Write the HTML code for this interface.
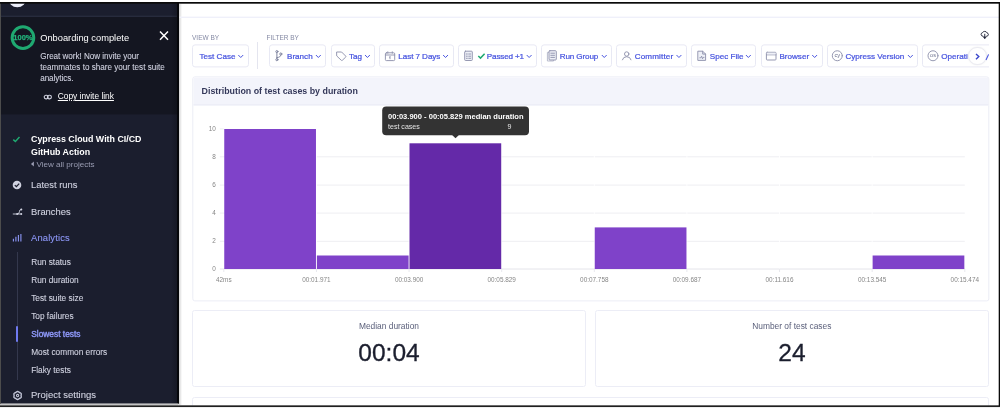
<!DOCTYPE html>
<html>
<head>
<meta charset="utf-8">
<title>Cypress Cloud - Slowest tests</title>
<style>
*{box-sizing:border-box;margin:0;padding:0}
html,body{width:1000px;height:408px;overflow:hidden;background:#fff}
body{position:relative;font-family:"Liberation Sans",sans-serif;color:#2e3247}
.a{position:absolute}
.t{position:absolute;white-space:nowrap;line-height:12px}
.c{transform:translateX(-50%)}
/* frame */
/* sidebar */
#sb{left:0;top:3px;width:177.500px;height:401px;background:#1b1e2e;overflow:hidden}
#sbedge{left:170.500px;top:3px;width:8px;height:401px;background:linear-gradient(90deg,rgba(5,6,10,0) 0,rgba(5,6,10,.25) 70%,#05060a 80%,#05060a 100%)}
#sbshadow{left:178.500px;top:3.700px;width:3px;height:401px;background:linear-gradient(90deg,rgba(0,0,0,.18),rgba(0,0,0,0))}
.sw{color:#fff}
.sg{color:#d0d2e0;-webkit-text-stroke:.08px #d0d2e0}
.nav{font-size:9.4px;color:#d0d2e0;left:31px;-webkit-text-stroke:.1px #d0d2e0}
.sub{font-size:8.3px;color:#d0d2e0;left:31.2px;-webkit-text-stroke:.1px #d0d2e0}
.ind{color:#8d97f7 !important;-webkit-text-stroke-color:#8d97f7 !important}
/* main */
.lbl{font-size:6.5px;color:#858aa4}
.btn{position:absolute;top:44px;height:22.8px;transform:translateY(.4px);border:1px solid #e8e9f4;border-radius:3px;background:#fff}
.bt{position:absolute;white-space:nowrap;font-size:8.1px;line-height:12px;top:51.1px;color:#4552df;-webkit-text-stroke:0.22px #4552df}
.card{position:absolute;border:1px solid #ecedf6;border-radius:2.500px;background:#fff}
.grid{position:absolute;left:220px;width:745px;height:1px;background:#ededf0}
.yl{position:absolute;width:20px;left:195.8px;text-align:right;font-size:6.4px;line-height:8px;color:#868686}
.xl{position:absolute;top:275.8px;font-size:6.4px;line-height:8px;color:#868686;white-space:nowrap;transform:translateX(-50%)}
.bar{position:absolute;background:#7f42c9}
</style>
</head>
<body>
<div id="root" style="position:absolute;left:0;top:0;width:1000px;height:408px;will-change:transform;transform:translateZ(0)">
<!-- sidebar -->
<div class="a" id="sb">
  <svg class="a" style="left:0;top:-3px" width="178" height="408" viewBox="0 0 178 408">
   <circle cx="17.300" cy="-1.700" r="9" fill="#eceefa"/>
   <rect x="0" y="15.600" width="178" height="1.500" fill="#272b3d"/>
   <rect x="0" y="17.100" width="178" height="97.300" fill="#141621"/>
  </svg>
</div>
<div class="a" id="sbedge"></div>
<div class="a" id="sbshadow"></div>

<!-- onboarding -->
<svg class="a" style="left:9px;top:23px" width="28" height="28" viewBox="0 0 28 28"><circle cx="13.950" cy="14.650" r="10.800" fill="none" stroke="#1fa971" stroke-width="3"/></svg>
<div class="t c" style="left:22.9px;top:32.3px;font-size:7.5px;font-weight:bold;color:#22b27a;-webkit-text-stroke:.25px #22b27a">100%</div>
<div class="t sw" style="left:40.2px;top:32px;font-size:9.3px">Onboarding complete</div>
<svg class="a" style="left:158.100px;top:30.100px" width="12" height="12" viewBox="0 0 12 12"><path d="M2 1.6 L10 9.8 M10 1.6 L2 9.8" stroke="#fff" stroke-width="1.5" fill="none"/></svg>
<div class="t sg" style="left:40.2px;top:50.7px;font-size:8.15px;letter-spacing:-.04px">Great work! Now invite your</div>
<div class="t sg" style="left:40.2px;top:61.6px;font-size:8.15px">teammates to share your test suite</div>
<div class="t sg" style="left:40.2px;top:72.9px;font-size:8.15px;letter-spacing:-.07px">analytics.</div>
<svg class="a" style="left:42.600px;top:93px" width="10" height="8" viewBox="0 0 10 8"><g fill="none" stroke="#d0d2e0" stroke-width="1.100"><rect x="1.2" y="2.300" width="4" height="3.600" rx="1.800"/><rect x="4.400" y="2.300" width="4" height="3.600" rx="1.800"/></g></svg>
<div class="t sw" style="left:57.8px;top:90.2px;font-size:8.35px;text-decoration:underline">Copy invite link</div>

<!-- project -->
<svg class="a" style="left:11px;top:134px" width="12" height="10" viewBox="0 0 12 10"><path d="M2.300 5.600 L4.400 7.500 L8.500 3.100" stroke="#1fa971" stroke-width="1.500" fill="none"/></svg>
<div class="t sw" style="left:31px;top:133.1px;font-size:8.85px;font-weight:bold">Cypress Cloud With CI/CD</div>
<div class="t sw" style="left:31px;top:146.1px;font-size:8.85px;font-weight:bold">GitHub Action</div>
<svg class="a" style="left:30px;top:160px" width="6" height="8" viewBox="0 0 6 8"><path d="M3.900 1.600 V6.600 L0.900 4.100 Z" fill="#9a9db3"/></svg>
<div class="t" style="left:36.4px;top:159px;font-size:8.08px;color:#9a9db3">View all projects</div>

<!-- nav -->
<svg class="a" style="left:12px;top:180px" width="10" height="10" viewBox="0 0 10 10"><circle cx="5" cy="5" r="4.3" fill="#d0d2e0"/><path d="M2.8 5.1 L4.4 6.6 L7.2 3.6" stroke="#1b1e2e" stroke-width="1.3" fill="none"/></svg>
<div class="t nav" style="top:179px">Latest runs</div>
<svg class="a" style="left:12px;top:206px" width="11" height="10" viewBox="0 0 11 10"><path d="M0.800 8 H9.400 M5.300 8 Q7.300 7.800 7.400 5.700 Q7.500 3.500 9.300 3.400" stroke="#d0d2e0" stroke-width="0.900" fill="none"/><circle cx="5.200" cy="8" r="1.050" fill="#d0d2e0"/><circle cx="9.300" cy="3.400" r="1" fill="#d0d2e0"/><circle cx="9.300" cy="8" r="0.950" fill="#d0d2e0"/></svg>
<div class="t nav" style="top:205.7px">Branches</div>
<svg class="a" style="left:12px;top:233px" width="10" height="10" viewBox="0 0 10 10"><path d="M1.400 8.500 V5.800 M3.900 8.500 V3.800 M6.400 8.500 V2 M8.900 8.500 V1" stroke="#8d97f7" stroke-width="1.100" fill="none"/></svg>
<div class="t nav ind" style="top:231.7px;letter-spacing:.15px">Analytics</div>

<div class="a" style="left:16.5px;top:252px;width:1px;height:128px;background:#34384d"></div>
<div class="a" style="left:16px;top:326px;width:2px;height:16px;background:#6f7af0;border-radius:1px"></div>
<div class="t sub" style="top:256.4px">Run status</div>
<div class="t sub" style="top:274px">Run duration</div>
<div class="t sub" style="top:291.9px">Test suite size</div>
<div class="t sub" style="top:309.9px">Top failures</div>
<div class="t sub ind" style="top:327.8px;font-size:8.4px;-webkit-text-stroke-width:.4px">Slowest tests</div>
<div class="t sub" style="top:345.6px">Most common errors</div>
<div class="t sub" style="top:363.5px">Flaky tests</div>

<svg class="a" style="left:11.800px;top:390px" width="12" height="12" viewBox="0 0 12 12"><g fill="none" stroke="#c3c6d8"><path d="M5.60 1.37 L6.58 1.83 L7.33 2.49 L8.29 2.81 L9.18 3.43 L9.27 4.52 L9.07 5.50 L9.27 6.48 L9.18 7.56 L8.29 8.19 L7.33 8.51 L6.58 9.17 L5.60 9.63 L4.62 9.17 L3.86 8.51 L2.91 8.19 L2.02 7.57 L1.93 6.48 L2.13 5.50 L1.93 4.52 L2.02 3.43 L2.91 2.81 L3.86 2.49 L4.62 1.83 Z" stroke-width="1.350" stroke-linejoin="round"/><circle cx="5.6" cy="5.5" r="1.150" stroke-width="1.050"/></g></svg>
<div class="t nav" style="top:389.2px;font-size:9.5px">Project settings</div>

<!-- filter bar -->
<svg class="a" style="left:0;top:0" width="1000" height="30" viewBox="0 0 1000 30"><rect x="179.500" y="16.600" width="819.500" height="1.400" fill="#eff0fa"/></svg>
<div class="t lbl" style="left:192px;top:32.2px">VIEW BY</div>
<div class="t lbl" style="left:266.5px;top:32.2px">FILTER BY</div>
<div class="a" style="left:256.8px;top:42.2px;width:1px;height:26.6px;background:#e4e5ef"></div>

<div class="btn" style="left:192px;width:56.5px"></div>
<div class="btn" style="left:268.5px;width:57.8px"></div>
<div class="btn" style="left:330.5px;width:44.6px"></div>
<div class="btn" style="left:379.4px;width:74.4px"></div>
<div class="btn" style="left:458px;width:79px"></div>
<div class="btn" style="left:541.4px;width:70.6px"></div>
<div class="btn" style="left:616.4px;width:70.6px"></div>
<div class="btn" style="left:691.4px;width:64.8px"></div>
<div class="btn" style="left:760.5px;width:62px"></div>
<div class="btn" style="left:826.5px;width:91.7px"></div>
<div class="btn" style="left:922.2px;width:70px"></div>

<div class="bt" style="left:199.5px">Test Case</div>
<div class="bt" style="left:287px">Branch</div>
<div class="bt" style="left:349px">Tag</div>
<div class="bt" style="left:398.3px;letter-spacing:-.07px">Last 7 Days</div>
<div class="bt" style="left:486.8px;letter-spacing:-.15px">Passed +1</div>
<div class="bt" style="left:559.7px;letter-spacing:-.12px">Run Group</div>
<div class="bt" style="left:634.75px;letter-spacing:.13px">Committer</div>
<div class="bt" style="left:709.8px">Spec File</div>
<div class="bt" style="left:779.4px">Browser</div>
<div class="bt" style="left:845.4px">Cypress Version</div>
<div class="bt" style="left:941.2px">Operati</div>

<!-- chevrons -->
<svg class="a" style="left:0;top:0" width="1000" height="408" viewBox="0 0 1000 408">
 <g fill="none" stroke="#4a56e0" stroke-width="1" stroke-linecap="round" stroke-linejoin="round">
  <path d="M238.6 55.3 l2.15 2.2 l2.15 -2.2"/>
  <path d="M316.2 55.3 l2.15 2.2 l2.15 -2.2"/>
  <path d="M365.3 55.3 l2.15 2.2 l2.15 -2.2"/>
  <path d="M443.4 55.3 l2.15 2.2 l2.15 -2.2"/>
  <path d="M527 55.3 l2.15 2.2 l2.15 -2.2"/>
  <path d="M602.1 55.3 l2.15 2.2 l2.15 -2.2"/>
  <path d="M676.8 55.3 l2.15 2.2 l2.15 -2.2"/>
  <path d="M746.2 55.3 l2.15 2.2 l2.15 -2.2"/>
  <path d="M812.5 55.3 l2.15 2.2 l2.15 -2.2"/>
  <path d="M908.2 55.3 l2.15 2.2 l2.15 -2.2"/>
 </g>
 <!-- icons -->
 <g fill="none" stroke="#9094ae" stroke-width="0.95" stroke-linecap="round" stroke-linejoin="round">
  <!-- branch -->
  <g stroke="#7f849f" stroke-width="1"><path d="M276.9 52.600 V58.8 M276.9 57.6 Q280.8 57.4 280.8 55"/>
  <circle cx="276.9" cy="51.600" r="1.050" fill="#fff"/><circle cx="276.9" cy="59.7" r="1.050" fill="#fff"/><circle cx="280.8" cy="54" r="1.050" fill="#fff"/></g>
  <!-- tag -->
  <path d="M337 52 H341.6 L345.7 56.1 Q346.100 56.6 345.7 57.1 L342.3 60.300 Q341.8 60.7 341.3 60.300 L337 56.2 Z"/>
  <!-- calendar -->
  <rect x="385.4" y="52.800" width="9.3" height="7.800" rx="1"/><path d="M385.4 55 H394.700 M387.8 51.800 V53.2 M392.3 51.800 V53.2 M390 56.8 V58.8 M389.4 57.2 L390 56.8"/>
  <!-- status doc -->
  <rect x="464.700" y="51.200" width="7.600" height="9.300" rx="0.8" fill="#eef0f7"/><path d="M466.4 54 H467.3 M468.700 54 H470.6 M466.4 56.2 H467.3 M468.700 56.2 H470.6 M466.4 58.3 H467.3 M468.700 58.3 H470.6"/>
  <!-- run group -->
  <path d="M548.6 52.400 H547.4 V61 H553.6 V60" stroke="#b5b8cb"/>
  <rect x="549" y="50.7" width="7.300" height="9.300" rx="0.9" fill="#eef0f7"/><path d="M550.8 53.2 H554.5 M550.8 55.300 H554.5 M550.8 57.400 H554.5"/>
  <!-- committer -->
  <circle cx="626.7" cy="54" r="2.2"/><path d="M622.4 59.8 Q623.2 56.700 626.7 56.700 Q630.2 56.700 631 59.8"/>
  <!-- spec file -->
  <path d="M698.2 51.2 H702.700 L705.6 54.100 V60.4 H698.2 Z" fill="#eef0f7"/><path d="M702.700 51.2 V54.100 H705.6 M699.8 57.8 H700.8 L701.6 56.2 L702.5 58.8 L703.2 57.400 H704"/>
  <!-- browser -->
  <rect x="766.4" y="52.300" width="9.600" height="7.700" rx="0.8"/><path d="M766.4 54.800 H776" /><rect x="766.9" y="52.700" width="8.6" height="1.800" fill="#eef0f7" stroke="none"/>
  <!-- cy -->
  <circle cx="837.3" cy="55.750" r="5"/>
  <!-- os -->
  <circle cx="933" cy="55.750" r="5"/>
 </g>
 <path d="M478.3 56 L480.5 58.100 L484.6 53.700" fill="none" stroke="#1fa971" stroke-width="1.500"/>
 <text x="837.3" y="57.400" font-family="Liberation Sans, sans-serif" font-size="5.8" fill="#6d728f" text-anchor="middle">cy</text>
 <text x="933" y="57.400" font-family="Liberation Sans, sans-serif" font-size="5.6" fill="#6d728f" text-anchor="middle">os</text>
 <!-- cloud download -->
 <g fill="none" stroke="#23263a" stroke-width="0.95" stroke-linecap="round" stroke-linejoin="round">
  <path d="M982.9 36.3 Q981.100 36.100 981.100 34.4 Q981.100 32.900 982.600 32.600 Q983.100 31.400 984.700 31.400 Q986.4 31.400 986.9 32.800 Q988.400 33.200 988.400 34.600 Q988.400 36.100 986.600 36.300"/>
  <path d="M984.750 34.2 V38.2"/>
  <path d="M983.300 37 L984.750 38.700 L986.200 37 Z" fill="#23263a" stroke-width="0.5"/>
 </g>
</svg>

<!-- scroll arrow -->
<div class="a" style="left:989px;top:30px;width:9.700px;height:375px;background:#fff"></div>
<div class="a" style="left:968.4px;top:46.600px;width:18.4px;height:18.4px;border-radius:50%;background:#fff;border:1px solid #ebebf2;box-shadow:0 0 2px rgba(0,0,0,.08)"></div>
<svg class="a" style="left:972px;top:51px" width="12" height="12" viewBox="0 0 12 12"><path d="M4 3 L6.800 5.600 L4 8.200" stroke="#3a46cc" stroke-width="1.400" fill="none"/></svg>
<svg class="a" style="left:984px;top:52px" width="5" height="10" viewBox="0 0 5 10"><path d="M2 8 L4.600 2.400" stroke="#4a56e0" stroke-width="1.100" fill="none"/></svg>

<!-- chart card -->
<div class="card" style="left:192px;top:76px;width:797px;height:225px;overflow:hidden;transform:translate(.3px,.4px)">
  <div class="a" style="left:0;top:0;width:797px;height:28px;background:#f3f4fb;border-bottom:1px solid #e9eaf4"></div>
</div>
<div class="t" style="left:201.6px;top:84.6px;font-size:8.86px;font-weight:bold;color:#34385a">Distribution of test cases by duration</div>

<svg class="a" style="left:0;top:0" width="1000" height="408" viewBox="0 0 1000 408">
 <line x1="219.8" x2="964.8" y1="156.8" y2="156.8" stroke="#eeeef2" stroke-width="1"/>
 <line x1="219.8" x2="964.8" y1="185.1" y2="185.1" stroke="#eeeef2" stroke-width="1"/>
 <line x1="219.8" x2="964.8" y1="213.1" y2="213.1" stroke="#eeeef2" stroke-width="1"/>
 <line x1="219.8" x2="964.8" y1="241.3" y2="241.3" stroke="#eeeef2" stroke-width="1"/>
 <line x1="219.8" x2="964.8" y1="269.0" y2="269.0" stroke="#e4e4ea" stroke-width="1"/>
 <line x1="219.8" x2="223.8" y1="128.9" y2="128.9" stroke="#eeeef2" stroke-width="1"/>
 <line x1="223.80" x2="223.80" y1="269" y2="272" stroke="#e8e8ee" stroke-width="1"/>
 <line x1="316.43" x2="316.43" y1="269" y2="272" stroke="#e8e8ee" stroke-width="1"/>
 <line x1="409.05" x2="409.05" y1="269" y2="272" stroke="#e8e8ee" stroke-width="1"/>
 <line x1="501.68" x2="501.68" y1="269" y2="272" stroke="#e8e8ee" stroke-width="1"/>
 <line x1="594.30" x2="594.30" y1="269" y2="272" stroke="#e8e8ee" stroke-width="1"/>
 <line x1="686.92" x2="686.92" y1="269" y2="272" stroke="#e8e8ee" stroke-width="1"/>
 <line x1="779.55" x2="779.55" y1="269" y2="272" stroke="#e8e8ee" stroke-width="1"/>
 <line x1="872.17" x2="872.17" y1="269" y2="272" stroke="#e8e8ee" stroke-width="1"/>
 <line x1="964.80" x2="964.80" y1="269" y2="272" stroke="#e8e8ee" stroke-width="1"/>
 <line x1="316.43" x2="316.43" y1="128" y2="268.400" stroke="#fff" stroke-width="0.9"/>
 <line x1="409.05" x2="409.05" y1="128" y2="268.400" stroke="#fff" stroke-width="0.9"/>
 <line x1="501.68" x2="501.68" y1="128" y2="268.400" stroke="#fff" stroke-width="0.9"/>
 <line x1="594.30" x2="594.30" y1="128" y2="268.400" stroke="#fff" stroke-width="0.9"/>
 <line x1="686.92" x2="686.92" y1="128" y2="268.400" stroke="#fff" stroke-width="0.9"/>
 <line x1="779.55" x2="779.55" y1="128" y2="268.400" stroke="#fff" stroke-width="0.9"/>
 <line x1="872.17" x2="872.17" y1="128" y2="268.400" stroke="#fff" stroke-width="0.9"/>
 <rect x="224.25" y="129.00" width="91.72" height="140.00" fill="#7f42c9"/>
 <rect x="316.88" y="255.50" width="91.72" height="13.50" fill="#7f42c9"/>
 <rect x="409.50" y="143.30" width="91.72" height="125.70" fill="#6429a8"/>
 <rect x="594.75" y="227.40" width="91.72" height="41.60" fill="#7f42c9"/>
 <rect x="872.62" y="255.50" width="91.72" height="13.50" fill="#7f42c9"/>
</svg>
<div class="yl" style="top:125.1px">10</div>
<div class="yl" style="top:152.8px">8</div>
<div class="yl" style="top:181.0px">6</div>
<div class="yl" style="top:209.1px">4</div>
<div class="yl" style="top:237.4px">2</div>
<div class="yl" style="top:265.2px">0</div>
<div class="xl" style="left:223.8px">42ms</div>
<div class="xl" style="left:316.4px">00:01.971</div>
<div class="xl" style="left:409.1px">00:03.900</div>
<div class="xl" style="left:501.7px">00:05.829</div>
<div class="xl" style="left:594.3px">00:07.758</div>
<div class="xl" style="left:686.9px">00:09.687</div>
<div class="xl" style="left:779.5px">00:11.616</div>
<div class="xl" style="left:872.2px">00:13.545</div>
<div class="xl" style="left:964.8px">00:15.474</div>

<!-- tooltip -->
<svg class="a" style="left:0;top:0" width="1000" height="408" viewBox="0 0 1000 408">
 <rect x="382.2" y="106.5" width="146.8" height="28.700" rx="4" fill="#333"/>
 <path d="M452.100 135 H458.900 L455.500 138.300 Z" fill="#333"/>
</svg>
<div class="t" style="left:388px;top:111.050px;font-size:7.56px;font-weight:bold;color:#fff">00:03.900 - 00:05.829 median duration</div>
<div class="t" style="left:388px;top:121.100px;font-size:7.07px;color:#e4e4e4">test cases</div>
<div class="t" style="left:507.400px;top:121.100px;font-size:7.07px;color:#e4e4e4">9</div>

<!-- stat cards -->
<div class="card" style="left:191.800px;top:310px;width:394px;height:77px"></div>
<div class="card" style="left:594.600px;top:310px;width:394.200px;height:77px"></div>
<div class="card" style="left:191.800px;top:396.600px;width:797px;height:20px"></div>
<div class="t c" style="left:389px;top:319.600px;font-size:8.4px;color:#5a5f7a">Median duration</div>
<div class="t c" style="left:791.800px;top:319.600px;font-size:8.4px;color:#5a5f7a">Number of test cases</div>
<div class="t c" style="left:389px;top:339px;font-size:24.5px;line-height:28px;color:#1b1e2e;-webkit-text-stroke:.3px #1b1e2e">00:04</div>
<div class="t c" style="left:792px;top:339px;font-size:24.5px;line-height:28px;color:#1b1e2e;-webkit-text-stroke:.3px #1b1e2e">24</div>

<!-- frame -->
<svg class="a" style="left:0;top:0" width="1000" height="408" viewBox="0 0 1000 408">
 <rect x="0" y="0" width="1000" height="2" fill="#fff"/>
 <rect x="0" y="2" width="1000" height="1.700" fill="#0a0a0a"/>
 <rect x="0" y="403.400" width="178.600" height="2.200" fill="#c4c4c4"/>
 <rect x="179" y="405" width="821" height="0.500" fill="#c8c8c8"/>
 <rect x="0" y="405.450" width="1000" height="1.500" fill="#0a0a0a"/>
 <rect x="0" y="406.950" width="1000" height="1.050" fill="#efefef"/>
 <rect x="0" y="3.700" width="1" height="400" fill="#4c4c4c"/>
 <rect x="998.700" y="3" width="1.300" height="403" fill="#0a0a0a"/>
</svg>
</div>
</body>
</html>
